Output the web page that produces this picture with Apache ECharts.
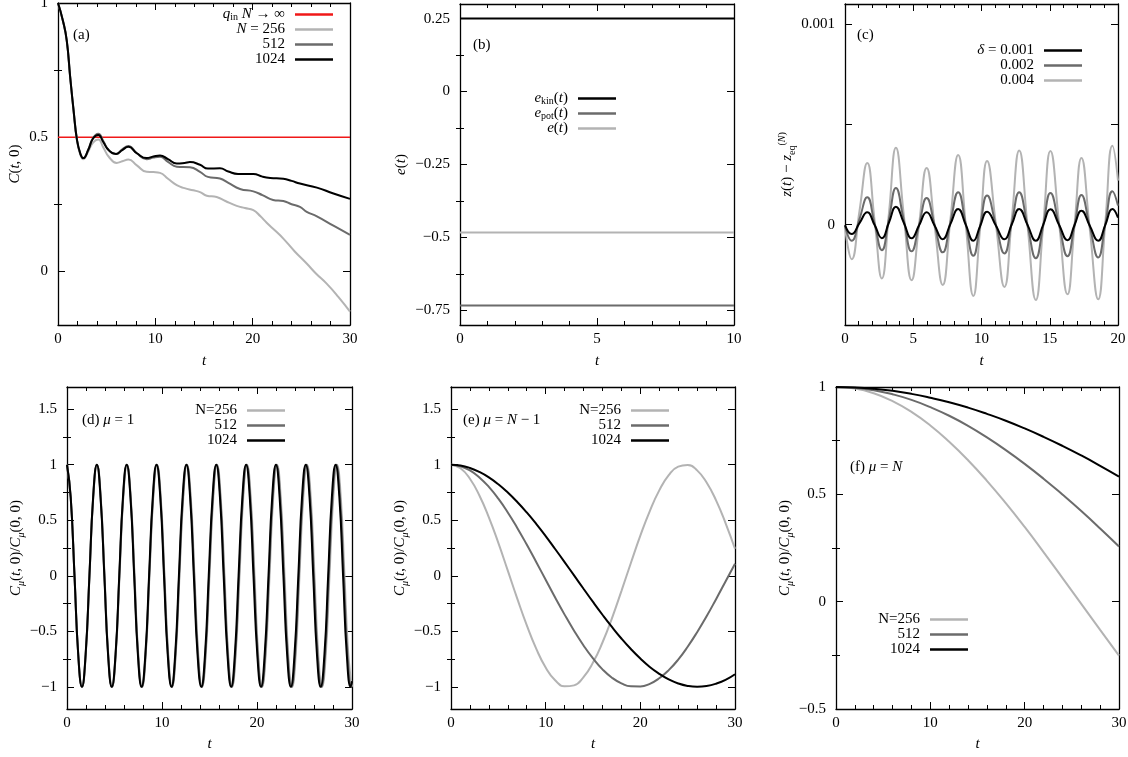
<!DOCTYPE html>
<html><head><meta charset="utf-8">
<script src="https://cdn.jsdelivr.net/npm/echarts@6/dist/echarts.min.js"></script>
<style>html,body{margin:0;padding:0;background:#fff}#c{width:1128px;height:757px}</style>
</head><body><div id="c"></div>
<script>
// ---------------- DATA ----------------
// (a) C(t,0)
const tA1024 = [0,0.5,0.9,1.25,1.6,1.95,2.3,2.6,3.1,3.6,4.14,4.65,5.2,5.96,6.6,7.23,8.1,9.11,9.8,10.48,11.3,12.2,13.0,13.56,14.59,15.4,16.64,17.5,18.5,20.07,21.0,21.8,23.15,24.0,24.86,26.6,28.3,30];
const cA1024 = [1,0.935,0.86,0.725,0.6,0.49,0.438,0.422,0.452,0.495,0.508,0.482,0.452,0.437,0.452,0.464,0.44,0.422,0.428,0.432,0.418,0.402,0.404,0.407,0.397,0.383,0.384,0.372,0.363,0.363,0.353,0.348,0.345,0.337,0.327,0.312,0.29,0.27];
const tA512 = [0,0.5,0.9,1.25,1.6,1.95,2.3,2.6,3.1,3.6,4.14,4.65,5.2,5.96,6.6,7.23,8.1,9.11,9.8,10.48,11.3,12.2,13.56,14.59,15.4,16.64,17.5,18.7,20.07,21.0,22.1,23.15,24.0,24.86,25.55,26.6,28.3,30];
const cA512 = [1,0.935,0.86,0.725,0.6,0.49,0.438,0.422,0.452,0.497,0.513,0.486,0.452,0.437,0.455,0.467,0.44,0.418,0.424,0.427,0.408,0.39,0.388,0.371,0.352,0.346,0.33,0.307,0.298,0.284,0.266,0.262,0.25,0.24,0.222,0.205,0.17,0.136];
const tA256 = [0,0.5,0.9,1.25,1.6,1.95,2.3,2.6,3.1,3.6,4.14,4.65,5.2,6.03,6.6,7.23,8.1,9.11,9.8,10.48,11.3,12.2,13.0,13.9,14.59,15.28,16.3,17.2,18.36,19.2,20.07,20.8,21.44,22.3,23.15,24.3,25.55,26.5,27.6,28.8,30];
const cA256 = [1,0.933,0.858,0.722,0.598,0.487,0.434,0.418,0.446,0.48,0.491,0.462,0.428,0.404,0.41,0.417,0.395,0.371,0.37,0.367,0.345,0.321,0.31,0.302,0.295,0.282,0.277,0.262,0.244,0.236,0.228,0.205,0.181,0.152,0.122,0.075,0.029,-0.008,-0.046,-0.095,-0.15];
const tAinf = [0, 30];
const cAinf = [0.5, 0.5];

// (b) energies
const tB = [0, 10];
const eKin = [0.25, 0.25];
const ePot = [-0.733, -0.733];
const eTot = [-0.483, -0.483];

// (c) z(t) - z_eq
const tC = [0,0.49,1.06,1.63,2.17,2.70,3.22,3.73,4.30,4.88,5.43,5.98,6.57,7.16,7.72,8.29,8.85,9.40,9.90,10.41,11.05,11.68,12.22,12.76,13.37,13.98,14.52,15.05,15.68,16.30,16.81,17.32,17.93,18.55,19.07,19.59,20];
const zC004 = [-0.1e-4,-1.72e-4,0.68e-4,3.07e-4,0.2e-4,-2.68e-4,0.58e-4,3.83e-4,0.53e-4,-2.77e-4,0.03e-4,2.83e-4,-0.09e-4,-3.0e-4,0.24e-4,3.47e-4,-0.04e-4,-3.55e-4,-0.19e-4,3.17e-4,0.04e-4,-3.1e-4,0.3e-4,3.7e-4,-0.03e-4,-3.75e-4,-0.04e-4,3.67e-4,0.1e-4,-3.47e-4,-0.07e-4,3.33e-4,-0.2e-4,-3.72e-4,0.1e-4,3.93e-4,2.2e-4];
const zC002 = [-0.05e-4,-0.8e-4,0.28e-4,1.37e-4,0.05e-4,-1.27e-4,0.28e-4,1.83e-4,0.25e-4,-1.33e-4,0,1.33e-4,-0.03e-4,-1.38e-4,0.12e-4,1.62e-4,0.03e-4,-1.55e-4,-0.05e-4,1.45e-4,0.01e-4,-1.43e-4,0.1e-4,1.62e-4,-0.03e-4,-1.67e-4,-0.05e-4,1.58e-4,0,-1.57e-4,-0.05e-4,1.48e-4,-0.08e-4,-1.63e-4,0.02e-4,1.67e-4,0.95e-4];
const zC001 = [-0.02e-4,-0.47e-4,0.08e-4,0.62e-4,-0.02e-4,-0.67e-4,0.11e-4,0.9e-4,0.11e-4,-0.68e-4,-0.03e-4,0.62e-4,-0.05e-4,-0.72e-4,0.03e-4,0.78e-4,-0.01e-4,-0.8e-4,-0.07e-4,0.65e-4,-0.04e-4,-0.73e-4,0.02e-4,0.78e-4,-0.01e-4,-0.8e-4,-0.01e-4,0.77e-4,0,-0.77e-4,-0.03e-4,0.7e-4,-0.05e-4,-0.8e-4,-0.01e-4,0.78e-4,0.35e-4];

// (d) mu = 1
const tD1024 = [0,0.39,0.79,1.18,1.57,1.96,2.36,2.75,3.14,3.53,3.93,4.32,4.71,5.11,5.50,5.89,6.28,6.68,7.07,7.46,7.85,8.25,8.64,9.03,9.42,9.82,10.21,10.60,11.00,11.39,11.78,12.17,12.57,12.96,13.35,13.74,14.14,14.53,14.92,15.32,15.71,16.10,16.49,16.89,17.28,17.67,18.06,18.46,18.85,19.24,19.63,20.03,20.42,20.81,21.21,21.60,21.99,22.38,22.78,23.17,23.56,23.95,24.35,24.74,25.13,25.53,25.92,26.31,26.70,27.10,27.49,27.88,28.27,28.67,29.06,29.45,29.85,30];
const cD1024 = [1,0.707,0,-0.707,-1,-0.707,0,0.707,1,0.707,0,-0.707,-1,-0.707,0,0.707,1,0.707,0,-0.707,-1,-0.707,0,0.707,1,0.707,0,-0.707,-1,-0.707,0,0.707,1,0.707,0,-0.707,-1,-0.707,0,0.707,1,0.707,0,-0.707,-1,-0.707,0,0.707,1,0.707,0,-0.707,-1,-0.707,0,0.707,1,0.707,0,-0.707,-1,-0.707,0,0.707,1,0.707,0,-0.707,-1,-0.707,0,0.707,1,0.707,0,-0.707,-1,-0.95];
const tD512 = [0,0.39,0.79,1.18,1.58,1.97,2.36,2.76,3.15,3.54,3.94,4.33,4.73,5.12,5.51,5.91,6.30,6.69,7.09,7.48,7.88,8.27,8.66,9.06,9.45,9.84,10.24,10.63,11.03,11.42,11.81,12.21,12.60,12.99,13.39,13.78,14.18,14.57,14.96,15.36,15.75,16.14,16.54,16.93,17.33,17.72,18.11,18.51,18.90,19.29,19.69,20.08,20.48,20.87,21.26,21.66,22.05,22.44,22.84,23.23,23.63,24.02,24.41,24.81,25.20,25.59,25.99,26.38,26.78,27.17,27.56,27.96,28.35,28.74,29.14,29.53,29.93,30];
const cD512 = [1,0.707,0,-0.707,-1,-0.707,0,0.707,1,0.707,0,-0.707,-1,-0.707,0,0.707,1,0.707,0,-0.707,-1,-0.707,0,0.707,1,0.707,0,-0.707,-1,-0.707,0,0.707,1,0.707,0,-0.707,-1,-0.707,0,0.707,1,0.707,0,-0.707,-1,-0.707,0,0.707,1,0.707,0,-0.707,-1,-0.707,0,0.707,1,0.707,0,-0.707,-1,-0.707,0,0.707,1,0.707,0,-0.707,-1,-0.707,0,0.707,1,0.707,0,-0.707,-1,-0.99];
const tD256 = [0,0.39,0.79,1.18,1.58,1.97,2.37,2.76,3.16,3.55,3.95,4.34,4.74,5.13,5.53,5.92,6.32,6.71,7.11,7.50,7.90,8.29,8.68,9.08,9.47,9.87,10.26,10.66,11.05,11.45,11.84,12.24,12.63,13.03,13.42,13.82,14.21,14.61,15.00,15.40,15.79,16.18,16.58,16.97,17.37,17.76,18.16,18.55,18.95,19.34,19.74,20.13,20.53,20.92,21.32,21.71,22.11,22.50,22.90,23.29,23.69,24.08,24.47,24.87,25.26,25.66,26.05,26.45,26.84,27.24,27.63,28.03,28.42,28.82,29.21,29.61,30.00];
const cD256 = [1,0.707,0,-0.707,-1,-0.707,0,0.707,1,0.707,0,-0.707,-1,-0.707,0,0.707,1,0.707,0,-0.707,-1,-0.707,0,0.707,1,0.707,0,-0.707,-1,-0.707,0,0.707,1,0.707,0,-0.707,-1,-0.707,0,0.707,1,0.707,0,-0.707,-1,-0.707,0,0.707,1,0.707,0,-0.707,-1,-0.707,0,0.707,1,0.707,0,-0.707,-1,-0.707,0,0.707,1,0.707,0,-0.707,-1,-0.707,0,0.707,1,0.707,0,-0.707,-1];

// (e) mu = N-1
const tE = [0,1,2,3,4,5,6,7,8,9,10,11,12,13,14,15,16,17,18,19,20,21,22,23,24,25,26,27,28,29,30];
const cE256 = [1,0.968,0.874,0.723,0.526,0.296,0.046,-0.206,-0.445,-0.656,-0.826,-0.941,-0.996,-0.987,-0.913,-0.782,-0.601,-0.383,-0.138,0.115,0.361,0.583,0.769,0.906,0.983,0.998,0.949,0.84,0.679,0.475,0.243];
const cE512 = [1,0.987,0.949,0.886,0.8,0.694,0.57,0.431,0.281,0.124,-0.036,-0.196,-0.35,-0.495,-0.628,-0.745,-0.843,-0.918,-0.969,-0.996,-0.997,-0.973,-0.923,-0.85,-0.755,-0.639,-0.508,-0.365,-0.211,-0.052,0.108];
const cE1024 = [1,0.993,0.971,0.935,0.886,0.824,0.749,0.664,0.57,0.467,0.357,0.241,0.123,0.003,-0.117,-0.236,-0.351,-0.461,-0.565,-0.66,-0.746,-0.822,-0.883,-0.934,-0.97,-0.992,-1,-0.993,-0.972,-0.938,-0.887];

// (f) mu = N
const tF = [0,2,4,6,8,10,12,14,16,18,20,22,24,26,28,30];
const cF256 = [1,0.993,0.971,0.934,0.884,0.821,0.745,0.659,0.563,0.459,0.348,0.231,0.111,-0.01,-0.131,-0.251];
const cF512 = [1,0.996,0.985,0.966,0.94,0.906,0.866,0.819,0.765,0.706,0.642,0.573,0.499,0.422,0.341,0.257];
const cF1024 = [1,0.998,0.992,0.982,0.968,0.95,0.929,0.904,0.875,0.843,0.807,0.768,0.726,0.681,0.633,0.583];

// tick values
const yTicksA = [0,0.5,1], yMinorA = [0.25,0.75];
const yTicksB = [-0.75,-0.5,-0.25,0,0.25], yMinorB = [-0.625,-0.375,-0.125,0.125];
const yTicksC = [0,0.0005,0.001], yLabelsC = [0,0.001];
const yTicksDE = [-1,-0.5,0,0.5,1,1.5], yMinorDE = [-0.75,-0.25,0.25,0.75,1.25];
const yTicksF = [-0.5,0,0.5,1], yMinorF = [-0.25,0.25,0.75];

// ---------------- CHART ----------------
const FONT = 'Liberation Serif';
const LIGHT = '#b3b3b3', MID = '#6b6b6b', DARK = '#000000', RED = '#f01818';
const zip = (ts, vs) => ts.map((t, i) => [t, vs[i]]);
const fmtY = v => (v < 0 ? '\u2212' : '') + String(Math.abs(v));

const richName = {
  i: {fontFamily: FONT, fontStyle: 'italic', fontSize: 15, lineHeight: 20, color: '#000'},
  n: {fontFamily: FONT, fontSize: 15, lineHeight: 20, color: '#000'},
  s: {fontFamily: FONT, fontSize: 10, lineHeight: 12, verticalAlign: 'bottom', color: '#000'},
  si: {fontFamily: FONT, fontStyle: 'italic', fontSize: 10, lineHeight: 12, verticalAlign: 'bottom', color: '#000'},
  p: {fontFamily: FONT, fontSize: 10, lineHeight: 12, verticalAlign: 'top', color: '#000'},
  pi: {fontFamily: FONT, fontStyle: 'italic', fontSize: 10, lineHeight: 12, verticalAlign: 'top', color: '#000'}
};
const richLeg = {
  i: {fontFamily: FONT, fontStyle: 'italic', fontSize: 15, lineHeight: 15, color: '#000'},
  s: {fontFamily: FONT, fontSize: 10, lineHeight: 9, verticalAlign: 'bottom', color: '#000'}
};

const grids = [
  {left: 58, top: 3, width: 292, height: 322},
  {left: 460, top: 4, width: 274, height: 321},
  {left: 845, top: 4, width: 273, height: 321},
  {left: 67, top: 387, width: 285, height: 322},
  {left: 451, top: 387, width: 284, height: 322},
  {left: 836, top: 387, width: 283, height: 322}
].map(g => Object.assign({outerBoundsMode: 'none', containLabel: false}, g));

const xAxes = [], yAxes = [];
const lineAx = {show: true, onZero: false, lineStyle: {color: '#000', width: 1.3}};
const tickStyle = {color: '#000', width: 1};
function addGrid(gi, c) {
  const base = {gridIndex: gi, type: 'value', splitLine: {show: false}, minorSplitLine: {show: false}, axisLine: lineAx};
  const xi = xAxes.length;
  const xCommon = Object.assign({}, base, {min: c.xmin, max: c.xmax, interval: c.xint,
    axisTick: {inside: true, length: 7, lineStyle: tickStyle},
    minorTick: {show: true, splitNumber: c.xsplit, length: 4, lineStyle: tickStyle}});
  xAxes.push(Object.assign({}, xCommon, {position: 'bottom',
    axisLabel: {fontFamily: FONT, fontSize: 15, color: '#000', margin: 7},
    name: 't', nameLocation: 'middle', nameGap: c.xgap,
    nameTextStyle: {fontFamily: FONT, fontSize: 15, fontStyle: 'italic', color: '#000'}}));
  xAxes.push(Object.assign({}, xCommon, {position: 'top', axisLabel: {show: false}}));
  const yi = yAxes.length;
  const yb = Object.assign({}, base, {min: c.ymin, max: c.ymax});
  yAxes.push(Object.assign({}, yb, {position: 'left',
    axisTick: {inside: true, length: 7, customValues: c.yMajor, lineStyle: tickStyle},
    axisLabel: {customValues: c.yLabels || c.yMajor, formatter: fmtY, fontFamily: FONT, fontSize: 15, color: '#000', margin: 10},
    name: c.yname, nameLocation: 'middle', nameGap: c.ygap,
    nameTextStyle: {fontFamily: FONT, fontSize: 15, lineHeight: 20, color: '#000', rich: richName}}));
  yAxes.push(Object.assign({}, yb, {position: 'left', axisLine: {show: false},
    axisTick: c.yMinor ? {inside: true, length: 4, customValues: c.yMinor, lineStyle: tickStyle} : {show: false},
    axisLabel: {show: false}}));
  yAxes.push(Object.assign({}, yb, {position: 'right',
    axisTick: {inside: true, length: 7, customValues: c.yMajor, lineStyle: tickStyle},
    axisLabel: {show: false}}));
  yAxes.push(Object.assign({}, yb, {position: 'right', axisLine: {show: false},
    axisTick: c.yMinor ? {inside: true, length: 4, customValues: c.yMinor, lineStyle: tickStyle} : {show: false},
    axisLabel: {show: false}}));
  return {xi, yi};
}

const A = addGrid(0, {xmin: 0, xmax: 30, xint: 10, xsplit: 5, xgap: 29, ymin: -0.2, ymax: 1, yMajor: yTicksA, yMinor: yMinorA, yname: '{i|C}({i|t}, 0)', ygap: 31});
const B = addGrid(1, {xmin: 0, xmax: 10, xint: 5, xsplit: 5, xgap: 29, ymin: -0.8, ymax: 0.3, yMajor: yTicksB, yMinor: yMinorB, yname: '{i|e}({i|t})', ygap: 38});
const C = addGrid(2, {xmin: 0, xmax: 20, xint: 5, xsplit: 5, xgap: 29, ymin: -0.0005, ymax: 0.0011, yMajor: yTicksC, yLabels: yLabelsC, yMinor: null, yname: '{i|z}({i|t}) \u2212 {i|z}{s|eq}{p|(}{pi|N}{p|)}', ygap: 42});
const yNameC = '{i|C}{si|\u03bc}({i|t}, 0)/{i|C}{si|\u03bc}(0, 0)';
const D = addGrid(3, {xmin: 0, xmax: 30, xint: 10, xsplit: 5, xgap: 28, ymin: -1.2, ymax: 1.7, yMajor: yTicksDE, yMinor: yMinorDE, yname: yNameC, ygap: 30});
const E = addGrid(4, {xmin: 0, xmax: 30, xint: 10, xsplit: 5, xgap: 28, ymin: -1.2, ymax: 1.7, yMajor: yTicksDE, yMinor: yMinorDE, yname: yNameC, ygap: 33});
const F = addGrid(5, {xmin: 0, xmax: 30, xint: 10, xsplit: 5, xgap: 28, ymin: -0.5, ymax: 1, yMajor: yTicksF, yMinor: yMinorF, yname: yNameC, ygap: 33});

function line(name, ax, ts, vs, color, width, smooth, z) {
  return {name, type: 'line', xAxisIndex: ax.xi, yAxisIndex: ax.yi, data: zip(ts, vs),
    symbol: 'none', showSymbol: false, smooth: smooth, color: color, z: z || 2,
    lineStyle: {color: color, width: width}, emphasis: {disabled: true}};
}

const series = [
  line('a_inf', A, tAinf, cAinf, RED, 1.5, false, 2),
  line('a_256', A, tA256, cA256, LIGHT, 2, true, 3),
  line('a_512', A, tA512, cA512, MID, 2, true, 4),
  line('a_1024', A, tA1024, cA1024, DARK, 2, true, 5),
  line('b_kin', B, tB, eKin, DARK, 2, false),
  line('b_pot', B, tB, ePot, MID, 2, false),
  line('b_e', B, tB, eTot, LIGHT, 2, false),
  line('c_4', C, tC, zC004, LIGHT, 2, true, 3),
  line('c_2', C, tC, zC002, MID, 2, true, 4),
  line('c_1', C, tC, zC001, DARK, 2, true, 5),
  line('d_256', D, tD256, cD256, LIGHT, 2, true, 3),
  line('d_512', D, tD512, cD512, MID, 2, true, 4),
  line('d_1024', D, tD1024, cD1024, DARK, 2, true, 5),
  line('e_256', E, tE, cE256, LIGHT, 2, true, 3),
  line('e_512', E, tE, cE512, MID, 2, true, 4),
  line('e_1024', E, tE, cE1024, DARK, 2, true, 5),
  line('f_256', F, tF, cF256, LIGHT, 2, true, 3),
  line('f_512', F, tF, cF512, MID, 2, true, 4),
  line('f_1024', F, tF, cF1024, DARK, 2, true, 5)
];

const LEG = {
  a_inf: '{i|q}{s|in} {i|N} \u2192 \u221e', a_256: '{i|N} = 256', a_512: '512', a_1024: '1024',
  b_kin: '{i|e}{s|kin}({i|t})', b_pot: '{i|e}{s|pot}({i|t})', b_e: '{i|e}({i|t})',
  c_1: '{i|\u03b4} = 0.001', c_2: '0.002', c_4: '0.004',
  d_256: 'N=256', d_512: '512', d_1024: '1024',
  e_256: 'N=256', e_512: '512', e_1024: '1024',
  f_256: 'N=256', f_512: '512', f_1024: '1024'
};
function legend(data, right, top) {
  return {data, right, top, orient: 'vertical', align: 'right', padding: 0, itemGap: 0,
    icon: 'rect', itemWidth: 38, itemHeight: 2.5, selectedMode: false, formatter: n => LEG[n],
    textStyle: {fontFamily: FONT, fontSize: 15, lineHeight: 15, color: '#000', padding: [0, 5, 0, 0], rich: richLeg}};
}
const legends = [
  legend(['a_inf', 'a_256', 'a_512', 'a_1024'], 795, 7),
  legend(['b_kin', 'b_pot', 'b_e'], 512, 91),
  legend(['c_1', 'c_2', 'c_4'], 46, 43),
  legend(['d_256', 'd_512', 'd_1024'], 843, 403),
  legend(['e_256', 'e_512', 'e_1024'], 459, 403),
  legend(['f_256', 'f_512', 'f_1024'], 160, 612)
];

const tStyle = {fontFamily: FONT, fontSize: 15, fontWeight: 'normal', color: '#000', lineHeight: 18,
  rich: {i: {fontFamily: FONT, fontStyle: 'italic', fontSize: 15, lineHeight: 18, color: '#000'}}};
const titles = [
  ['(a)', 73, 26], ['(b)', 473, 36], ['(c)', 857, 26],
  ['(d) {i|\u03bc} = 1', 82, 411], ['(e) {i|\u03bc} = {i|N} \u2212 1', 463, 411], ['(f) {i|\u03bc} = {i|N}', 850, 458]
].map(([text, left, top]) => ({text, left, top, padding: 0, textStyle: tStyle}));

const chart = echarts.init(document.getElementById('c'), null, {renderer: 'canvas'});
chart.setOption({
  animation: false,
  backgroundColor: '#fff',
  title: titles,
  legend: legends,
  grid: grids,
  xAxis: xAxes,
  yAxis: yAxes,
  series: series
});
</script></body></html>
